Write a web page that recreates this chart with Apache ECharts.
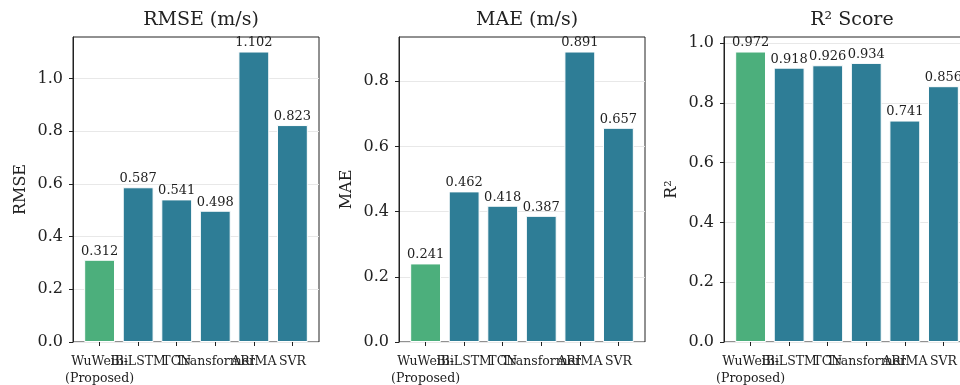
<!DOCTYPE html>
<html>
<head>
<meta charset="utf-8">
<script src="https://cdn.jsdelivr.net/npm/echarts@6/dist/echarts.min.js"></script>
<style>
html,body{margin:0;padding:0;background:#fff;overflow:hidden;}
#c{width:960px;height:385px;}
</style>
</head>
<body>
<div id="c"></div>
<script>
const categories = ['WuWeiBi\n(Proposed)', 'Bi-LSTM', 'TCN', 'Transformer', 'ARIMA', 'SVR'];
const rmseValues = [0.312, 0.587, 0.541, 0.498, 1.102, 0.823];
const maeValues = [0.241, 0.462, 0.418, 0.387, 0.891, 0.657];
const r2Values = [0.972, 0.918, 0.926, 0.934, 0.741, 0.856];
const rmseTicks = [0, 0.2, 0.4, 0.6, 0.8, 1.0];
const maeTicks = [0, 0.2, 0.4, 0.6, 0.8];
const r2Ticks = [0, 0.2, 0.4, 0.6, 0.8, 1.0];
const titles = ['RMSE (m/s)', 'MAE (m/s)', 'R\u00b2 Score'];
const yNames = ['RMSE', 'MAE', 'R\u00b2'];

const panels = [
  {values: rmseValues, ticks: rmseTicks},
  {values: maeValues, ticks: maeTicks},
  {values: r2Values, ticks: r2Ticks}
];
const FONT = 'DejaVu Serif';
const TXT = '#222';
const lefts = [73, 399, 724];
const TOP = 37, H = 305, W = 246;
const unit = W / 6.38;
const greenC = '#4caf7c', tealC = '#2e7d96';

const grid = [], xAxis = [], yAxis = [], series = [], title = [];
panels.forEach((p, i) => {
  const ymax = Math.max(...p.values) * 1.05;
  const L = lefts[i];
  // outer frame grid
  grid.push({left: L, top: TOP, width: W, height: H, show: true, borderColor: '#222', borderWidth: 1, backgroundColor: '#fff', containLabel: false, outerBoundsMode: 'none'});
  // inner bar grid
  grid.push({left: L + 0.19 * unit, top: TOP, width: 6 * unit, height: H, containLabel: false, outerBoundsMode: 'none'});
  const go = 2 * i, gi = 2 * i + 1;
  xAxis.push({gridIndex: go, type: 'value', min: 0, max: 1, show: false});
  xAxis.push({gridIndex: gi, type: 'category', data: categories,
    axisLine: {show: false},
    axisTick: {show: true, alignWithLabel: true, length: 4, lineStyle: {color: '#222'}},
    axisLabel: {interval: 0, fontFamily: FONT, fontSize: 12.5, color: TXT, margin: 11, lineHeight: 17, hideOverlap: false}
  });
  yAxis.push({gridIndex: go, type: 'value', min: 0, max: ymax,
    name: yNames[i], nameLocation: 'middle', nameGap: 44, nameRotate: 90,
    nameTextStyle: {fontFamily: FONT, fontSize: 16, color: TXT},
    axisLine: {show: true, lineStyle: {color: '#222'}},
    axisTick: {show: true, length: 4, customValues: p.ticks, lineStyle: {color: '#222'}},
    axisLabel: {customValues: p.ticks, formatter: v => v.toFixed(1), fontFamily: FONT, fontSize: 16, color: TXT, margin: 10},
    splitLine: {show: true, lineStyle: {color: '#e8e8e8', width: 1}}
  });
  yAxis.push({gridIndex: gi, type: 'value', min: 0, max: ymax, show: false});
  series.push({type: 'bar', xAxisIndex: gi, yAxisIndex: gi, barWidth: 0.8 * unit,
    data: p.values.map((v, k) => ({value: v, itemStyle: {color: k === 0 ? greenC : tealC}})),
    itemStyle: {borderColor: '#fff', borderWidth: 1},
    label: {show: true, position: 'top', distance: 2, formatter: d => d.value.toFixed(3), fontFamily: FONT, fontSize: 13, color: TXT},
    z: 3
  });
  title.push({text: titles[i], left: L + W / 2, top: 6, textAlign: 'center',
    textStyle: {fontFamily: FONT, fontSize: 19, fontWeight: 'normal', color: TXT}});
});

const chart = echarts.init(document.getElementById('c'), null, {renderer: 'canvas'});
chart.setOption({animation: false, backgroundColor: '#fff', title, grid, xAxis, yAxis, series});
</script>
</body>
</html>
